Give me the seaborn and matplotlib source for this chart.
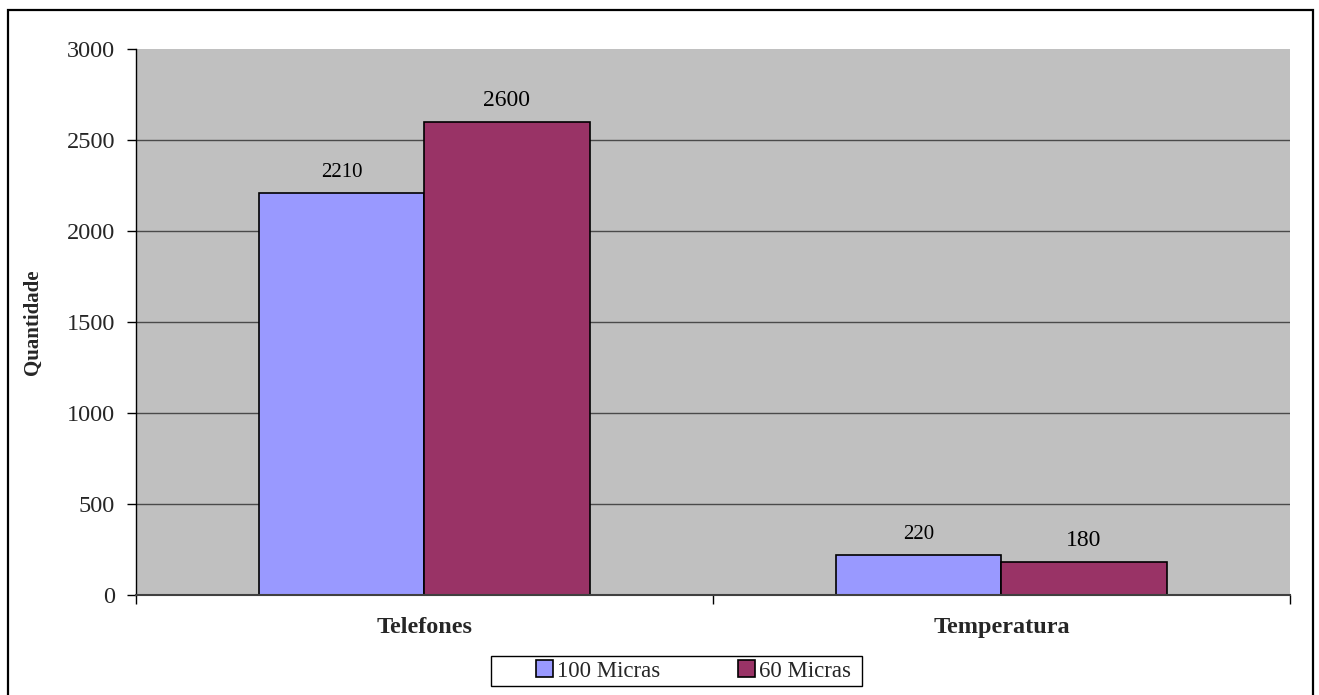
import matplotlib
matplotlib.use("Agg")
import matplotlib.pyplot as plt
from matplotlib.patches import Rectangle, Patch
import seaborn as sns
import pandas as pd

# Chart data
categorias = ["Telefones", "Temperatura"]
series = ["100 Micras", "60 Micras"]
valores_100 = [2210, 220]
valores_60 = [2600, 180]
y_ticks = [0, 500, 1000, 1500, 2000, 2500, 3000]

cores = ["#9999FF", "#993366"]

df = pd.DataFrame({
    "categoria": categorias * 2,
    "serie": [series[0]] * len(categorias) + [series[1]] * len(categorias),
    "quantidade": valores_100 + valores_60,
})

sns.set_theme(style="white")
plt.rcParams["font.family"] = ["Liberation Serif", "DejaVu Serif"]

fig = plt.figure(figsize=(13.19, 6.95), dpi=100)
ax = fig.add_axes([0.1031, 0.1439, 0.978 - 0.1031, 0.9295 - 0.1439])
ax.set_facecolor("#C0C0C0")

sns.barplot(
    data=df, x="categoria", y="quantidade", hue="serie",
    order=categorias, hue_order=series, palette=cores, saturation=1,
    width=0.572, edgecolor="black", linewidth=1.2,
    errorbar=None, legend=False, ax=ax, zorder=3,
)

# value labels above each bar (second series set slightly larger)
for cont, fs in zip(ax.containers, [15, 17]):
    ax.bar_label(cont, fmt="%d", padding=8, fontsize=fs, color="black")

ax.set_xlim(-0.5, 1.5)
ax.set_ylim(0, 3000)
ax.set_yticks(y_ticks)
ax.set_yticklabels([str(v) for v in y_ticks], fontsize=17.5)

# horizontal gridlines
for v in y_ticks[1:-1]:
    ax.axhline(v, color="#4a4a4a", linewidth=1.0, zorder=1)

# category labels centred, tick marks on category boundaries
ax.set_xticks([0, 1])
ax.set_xticklabels(categorias, fontsize=17.5, fontweight="bold")
ax.set_xticks([-0.5, 0.5, 1.5], minor=True)
ax.tick_params(axis="x", which="major", length=0, pad=16)
ax.tick_params(axis="x", which="minor", direction="out", length=6.5,
               width=1.0, color="black", bottom=True)
ax.tick_params(axis="y", direction="out", length=6.5, width=1.0,
               color="black", pad=8.5, left=True)

ax.set_xlabel("")
ax.set_ylabel("Quantidade", fontsize=15, fontweight="bold")
ax.yaxis.set_label_coords(-0.081, 0.5)

for side in ["top", "right"]:
    ax.spines[side].set_visible(False)
ax.spines["left"].set_color("black")
ax.spines["left"].set_linewidth(1.0)
ax.spines["bottom"].set_color("#404040")
ax.spines["bottom"].set_linewidth(1.5)
ax.spines["bottom"].set_zorder(4)

# legend entries, with a wider box drawn around them
handles = [Patch(facecolor=c, edgecolor="black", linewidth=1.2) for c in cores]
fig.legend(
    handles, series, loc="center left", bbox_to_anchor=(536 / 1319, 0.0345),
    ncol=2, fontsize=16.5, frameon=False,
    handlelength=0.72, handleheight=0.72,
    handletextpad=0.2, columnspacing=3.4, borderpad=0.0,
    borderaxespad=0,
)
fig.patches.append(Rectangle(
    (491 / 1319, 1 - 686 / 695), 371 / 1319, 30 / 695,
    transform=fig.transFigure, fill=False, edgecolor="black",
    linewidth=1.0, zorder=10,
))

# outer chart border
fig.patches.append(Rectangle(
    (8 / 1319, -0.02), (1313 - 8) / 1319, 1 - 10 / 695 + 0.02,
    transform=fig.transFigure, fill=False, edgecolor="black",
    linewidth=1.6, zorder=10,
))

fig.savefig("out.png", dpi=100, facecolor="white")
